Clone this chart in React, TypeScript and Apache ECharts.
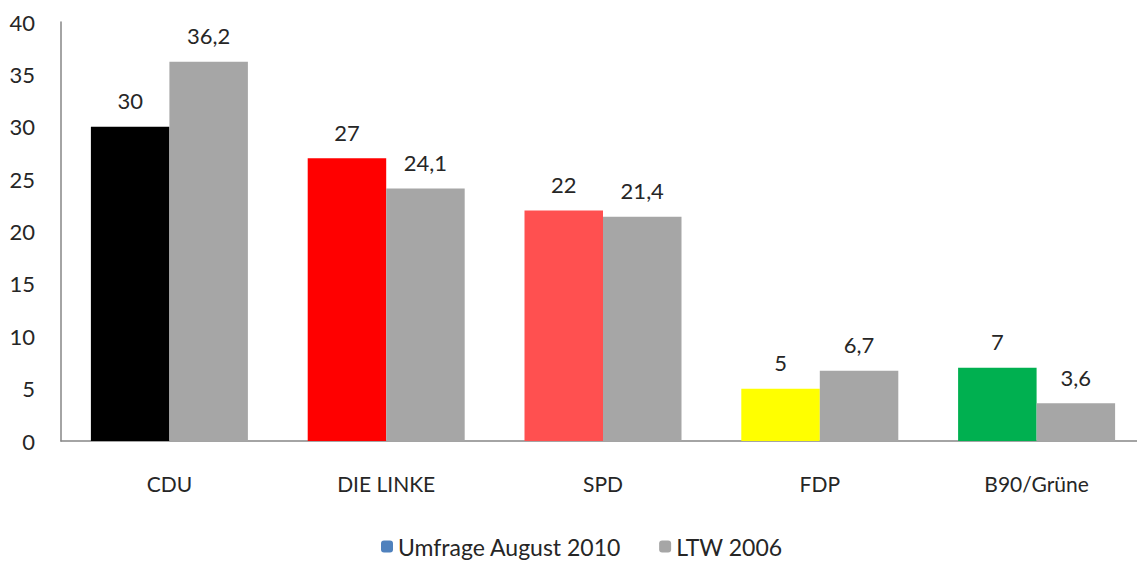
import React, { useEffect, useRef } from "react";
import * as echarts from "echarts";

const categories = ["CDU", "DIE LINKE", "SPD", "FDP", "B90/Grüne"];
const umfrage = [30, 27, 22, 5, 7];
const ltw = [36.2, 24.1, 21.4, 6.7, 3.6];
const partyColors = ["#000000", "#FF0000", "#FF5050", "#FFFF00", "#00B050"];
const seriesNames = ["Umfrage August 2010", "LTW 2006"];

const fmt = (v: number) => String(v).replace(".", ",");

export default function App() {
  const ref = useRef<HTMLDivElement>(null);
  useEffect(() => {
    if (!ref.current) return;
    const chart = echarts.init(ref.current, null, { renderer: "svg" });
    const font = "Lato, 'Open Sans', sans-serif";
    const labelCfg = {
      show: true,
      position: "top",
      distance: 15,
      fontSize: 22,
      color: "#262626",
      fontFamily: font,
      formatter: (p: any) => fmt(p.value),
    };
    chart.setOption({
      animation: false,
      textStyle: { fontFamily: font },
      grid: {
        left: 61,
        right: -8,
        top: 22,
        bottom: 121,
        containLabel: false,
        outerBoundsMode: "none",
      },
      legend: {
        top: 530,
        left: 376,
        itemWidth: 12,
        itemHeight: 12,
        itemGap: 38,
        textStyle: { fontSize: 23, color: "#262626", fontFamily: font },
        data: [
          { name: seriesNames[0], itemStyle: { color: "#4F81BD" } },
          { name: seriesNames[1], itemStyle: { color: "#A6A6A6" } },
        ],
      },
      xAxis: {
        type: "category",
        data: categories,
        axisLine: { lineStyle: { color: "#868686", width: 1.5 } },
        axisTick: { show: false },
        axisLabel: { fontSize: 21, color: "#262626", margin: 32, fontFamily: font },
      },
      yAxis: {
        type: "value",
        min: 0,
        max: 40,
        interval: 5,
        axisLine: { show: true, lineStyle: { color: "#868686", width: 1.5 } },
        axisTick: { show: false },
        splitLine: { show: false },
        axisLabel: { fontSize: 22, color: "#262626", margin: 26, fontFamily: font },
      },
      series: [
        {
          name: seriesNames[0],
          type: "bar",
          barWidth: 78.5,
          barGap: "0%",
          itemStyle: { color: "#4F81BD" },
          data: umfrage.map((v, i) => ({ value: v, itemStyle: { color: partyColors[i] } })),
          label: labelCfg,
        },
        {
          name: seriesNames[1],
          type: "bar",
          barWidth: 78.5,
          barGap: "0%",
          itemStyle: { color: "#A6A6A6" },
          data: ltw,
          label: labelCfg,
        },
      ],
    });
    return () => chart.dispose();
  }, []);
  return (
    <div
      ref={ref}
      style={{ position: "absolute", left: 0, top: 0, width: 1137, height: 562, overflow: "hidden" }}
    />
  );
}
